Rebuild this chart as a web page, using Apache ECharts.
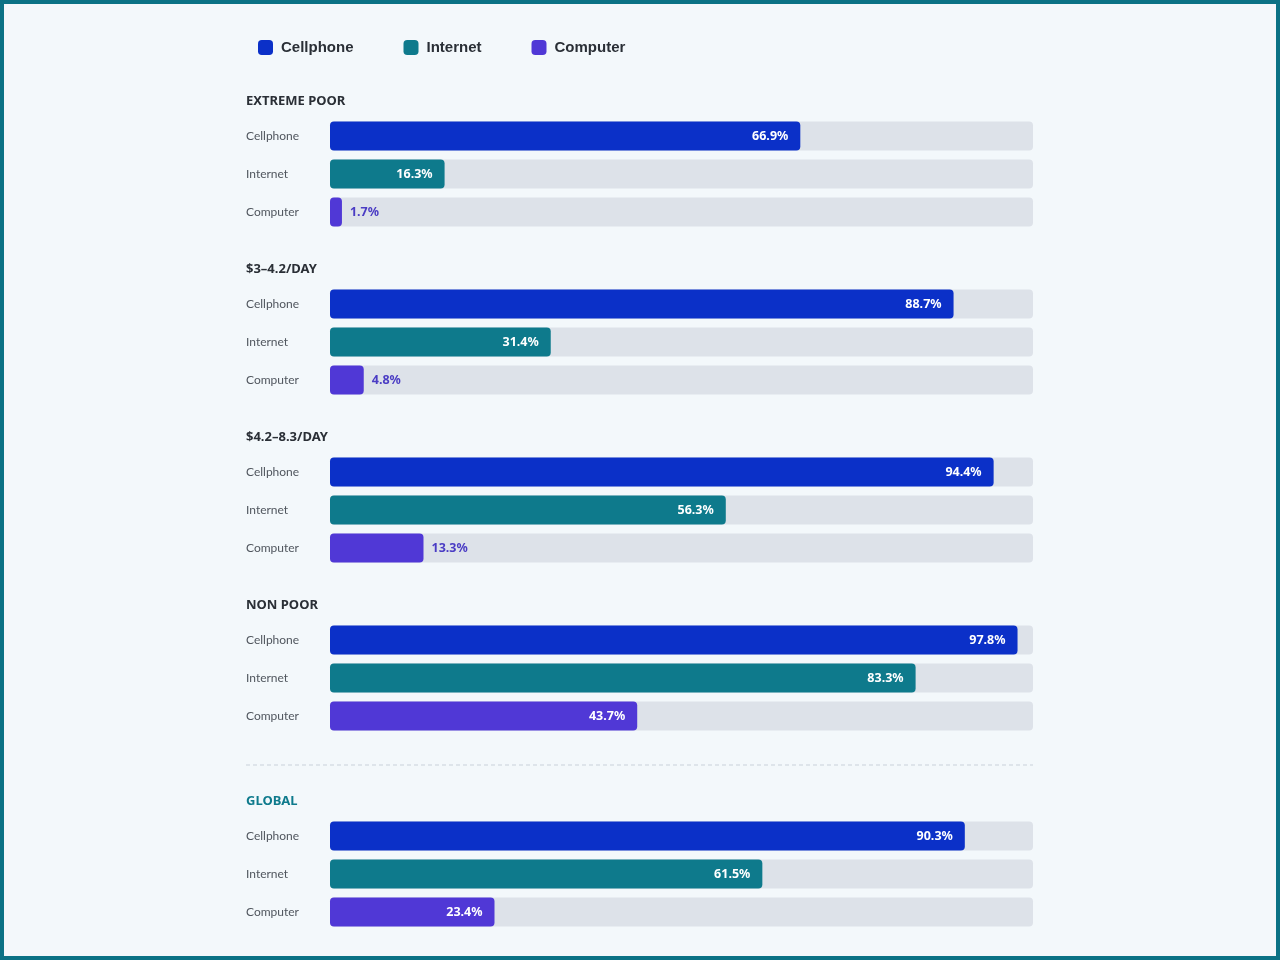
<!DOCTYPE html>
<html>
<head>
<meta charset="utf-8">
<script src="https://cdn.jsdelivr.net/npm/echarts@6/dist/echarts.min.js"></script>
<style>
html,body{margin:0;padding:0;background:#f3f8fb;}
#chart{position:absolute;left:0;top:0;width:1280px;height:960px;}
#frame{position:absolute;left:0;top:0;width:1280px;height:960px;box-sizing:border-box;border:4px solid #0b7285;pointer-events:none;}
</style>
</head>
<body>
<div id="chart"></div>
<div id="frame"></div>
<script>
const groups = ['EXTREME POOR', '$3–4.2/DAY', '$4.2–8.3/DAY', 'NON POOR', 'GLOBAL'];
const rowLabels = ['Cellphone', 'Internet', 'Computer'];
const cellphone = [66.9, 88.7, 94.4, 97.8, 90.3];
const internet = [16.3, 31.4, 56.3, 83.3, 61.5];
const computer = [1.7, 4.8, 13.3, 43.7, 23.4];

const seriesValues = [cellphone, internet, computer];
const colors = ['#0b30c8', '#0e7a8c', '#5038d6'];
const outsideColor = '#4a3cc4';
const gridTops = [117, 285, 453, 621, 817];
const font = '"Noto Sans", "Open Sans", sans-serif';

const grids = [], xAxes = [], yAxes = [], series = [], graphics = [];
groups.forEach((g, gi) => {
  grids.push({left: 330, width: 703, top: gridTops[gi], height: 114});
  xAxes.push({type: 'value', gridIndex: gi, min: 0, max: 100, show: false});
  yAxes.push({
    type: 'category', gridIndex: gi, data: rowLabels, inverse: true,
    axisLine: {show: false}, axisTick: {show: false}, splitLine: {show: false},
    axisLabel: {align: 'left', margin: 84, color: '#50565e', fontSize: 12, fontFamily: 'Lato, "Noto Sans", sans-serif'}
  });
  // track
  series.push({
    type: 'bar', xAxisIndex: gi, yAxisIndex: gi, silent: true,
    data: rowLabels.map(() => 100), barWidth: 29, barGap: '-100%', z: 1,
    itemStyle: {color: '#dde2e9', borderRadius: 4}, label: {show: false}, tooltip: {show: false}
  });
  seriesValues.forEach((arr, si) => {
    const v = arr[gi];
    const data = rowLabels.map((_, ri) => {
      if (ri !== si) return '-';
      const small = v < 15;
      return {
        value: v,
        label: small
          ? {position: 'right', color: outsideColor, distance: 8}
          : {position: 'insideRight', color: '#ffffff', distance: 12}
      };
    });
    series.push({
      name: rowLabels[si], type: 'bar', xAxisIndex: gi, yAxisIndex: gi,
      data: data, barWidth: 29, barGap: '-100%', z: 2,
      itemStyle: {color: colors[si], borderRadius: 4},
      label: {show: true, fontWeight: 'bold', fontSize: 12.5, fontFamily: font,
        formatter: p => p.value.toFixed(1) + '%'}
    });
  });
  graphics.push({
    type: 'text', left: 246, top: gridTops[gi] - 22,
    style: {text: g, fill: g === 'GLOBAL' ? '#0e7a8c' : '#2a2f36',
      font: 'bold 13px ' + font}
  });
});
graphics.push({
  type: 'line', shape: {x1: 246, y1: 765, x2: 1033, y2: 765},
  style: {stroke: '#c9d1da', lineWidth: 1, lineDash: [4, 3]}
});

const chart = echarts.init(document.getElementById('chart'));
chart.setOption({
  backgroundColor: '#f3f8fb',
  animation: false,
  legend: {
    data: rowLabels, left: 253, top: 35, itemWidth: 15, itemHeight: 15, itemGap: 50,
    icon: 'roundRect',
    textStyle: {fontSize: 15, fontWeight: 'bold', color: '#2a2f36', padding: [0, 0, 0, 3],
      fontFamily: '"Liberation Sans", Arial, sans-serif'}
  },
  grid: grids, xAxis: xAxes, yAxis: yAxes, series: series, graphic: graphics
});
</script>
</body>
</html>
